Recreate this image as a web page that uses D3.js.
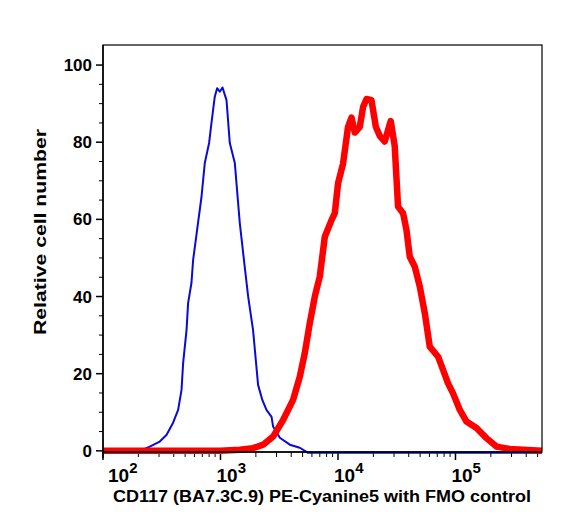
<!DOCTYPE html>
<html>
<head>
<meta charset="utf-8">
<script src="https://cdn.jsdelivr.net/npm/d3@7"></script>
<style>
  body { margin: 0; background: #fff; }
  text { font-family: Arial, "Liberation Sans", Helvetica, sans-serif; font-weight: bold; fill: #000; }
</style>
</head>
<body>
<div id="chart"></div>
<script>
// FMO control (blue) histogram
var fmoIntensity = [206, 250, 304, 347, 395, 436, 466, 481, 514, 530,
    566, 585, 644, 689, 735, 800, 838, 894, 936, 986,
    1040, 1125, 1200, 1324, 1459, 1590, 1720, 1893, 2089, 2270,
    2462, 2720, 2804, 3199, 3890, 4731, 5570, 545000];
var fmoCount = [0, 1.1, 2.4, 4.1, 7.3, 10.6, 15.8, 22.8, 31.3, 38.3,
    43.5, 49.5, 59.1, 65.8, 74.6, 79.8, 85.0, 91.8, 94.0, 93.1,
    94.2, 90.9, 79.8, 74.6, 59.1, 49.0, 40.0, 31.3, 17.1, 13.2,
    10.6, 8.8, 6.3, 3.4, 1.6, 0.8, -0.5, -0.5];

// CD117 stained (red) histogram
var cd117Intensity = [100, 1000, 1459, 1893, 2306, 2804, 3410, 4148, 4731, 5214,
    5754, 6350, 7000, 7723, 8810, 9397, 10020, 11050, 12180, 13030,
    13900, 15340, 16370, 17490, 19280, 20990, 22700, 25010, 28120, 30400,
    32450, 35800, 38260, 40830, 45060, 49660, 54810, 60420, 71120, 78390,
    86460, 95400, 108900, 124100, 151000, 183600, 223300, 289800, 376000, 545000];
var cd117Count = [0, 0, 0.3, 0.7, 1.6, 3.7, 8.0, 13.2, 19.2, 25.3,
    33.1, 40.0, 45.2, 55.5, 59.8, 61.6, 69.4, 74.5, 84.0, 86.4,
    82.5, 84.0, 89.2, 91.2, 90.9, 84.0, 81.6, 80.2, 85.5, 79.0,
    63.3, 61.6, 57.3, 50.3, 47.7, 42.6, 35.7, 27.0, 24.4, 21.0,
    17.5, 14.9, 10.6, 7.6, 5.9, 3.3, 1.1, 0.5, 0.3, 0];

var yTicks = [0, 20, 40, 60, 80, 100];
var xDecades = [2, 3, 4, 5];
var xTitle = "CD117 (BA7.3C.9) PE-Cyanine5 with FMO control";
var yTitle = "Relative cell number";

var W = 563, H = 524;
var plotL = 103, plotR = 542, plotT = 45, plotB = 452;

var svg = d3.select("#chart").append("svg")
    .attr("width", W).attr("height", H);

var x = d3.scaleLog().domain([100, 545000]).range([plotL, plotR]);
var y = d3.scaleLinear().domain([-0.3, 105.2]).range([plotB, plotT]);

// minor ticks
var yMinor = d3.range(0, 105, 5).filter(function(v) { return v % 20 !== 0; });
var xMinor = [];
[100, 1000, 10000, 100000].forEach(function(d) {
    for (var k = 2; k <= 9; k++) if (d * k <= 545000) xMinor.push(d * k);
});

var gy = svg.append("g");
gy.selectAll("line.major").data(yTicks).enter().append("line")
    .attr("x1", plotL - 7).attr("x2", plotL)
    .attr("y1", function(d) { return y(d); }).attr("y2", function(d) { return y(d); })
    .attr("stroke", "#000").attr("stroke-width", 1.5);
gy.selectAll("line.minor").data(yMinor).enter().append("line")
    .attr("x1", plotL - 4).attr("x2", plotL)
    .attr("y1", function(d) { return y(d); }).attr("y2", function(d) { return y(d); })
    .attr("stroke", "#000").attr("stroke-width", 1);
gy.selectAll("text").data(yTicks).enter().append("text")
    .attr("x", 92).attr("y", function(d) { return y(d); })
    .attr("dy", "0.36em").attr("text-anchor", "end")
    .style("font-size", "17px")
    .text(function(d) { return d; });

var gx = svg.append("g");
gx.selectAll("line.major").data(xDecades).enter().append("line")
    .attr("x1", function(d) { return x(Math.pow(10, d)); })
    .attr("x2", function(d) { return x(Math.pow(10, d)); })
    .attr("y1", plotB).attr("y2", plotB + 8)
    .attr("stroke", "#000").attr("stroke-width", 1.5);
gx.selectAll("line.minor").data(xMinor).enter().append("line")
    .attr("x1", function(d) { return x(d); }).attr("x2", function(d) { return x(d); })
    .attr("y1", plotB).attr("y2", plotB + 5)
    .attr("stroke", "#000").attr("stroke-width", 1);
var lab = gx.selectAll("text").data(xDecades).enter().append("text")
    .attr("x", function(d) { return Math.max(x(Math.pow(10, d)) - 4, 108); })
    .attr("y", 482)
    .style("font-size", "19px");
lab.append("tspan").text("10");
lab.append("tspan").attr("dy", -9).style("font-size", "15px")
    .text(function(d) { return d; });

// curves
var line = d3.line()
    .x(function(d) { return x(d[0]); })
    .y(function(d) { return y(d[1]); });

svg.append("path")
    .datum(d3.zip(fmoIntensity, fmoCount))
    .attr("d", line)
    .attr("fill", "none").attr("stroke", "#0a0ad8").attr("stroke-width", 2)
    .attr("stroke-linejoin", "round");

svg.append("path")
    .datum(d3.zip(cd117Intensity, cd117Count))
    .attr("d", line)
    .attr("fill", "none").attr("stroke", "#ff0000").attr("stroke-width", 6.5)
    .attr("stroke-linejoin", "round");

// frame
svg.append("rect")
    .attr("x", plotL).attr("y", plotT)
    .attr("width", plotR - plotL).attr("height", plotB - plotT)
    .attr("fill", "none").attr("stroke", "#000").attr("stroke-width", 1.2);
svg.append("line").attr("x1", plotL).attr("x2", plotR)
    .attr("y1", plotB).attr("y2", plotB)
    .attr("stroke", "#000").attr("stroke-width", 1.5);
svg.append("line").attr("x1", plotL).attr("x2", plotL)
    .attr("y1", plotT).attr("y2", plotB + 6)
    .attr("stroke", "#000").attr("stroke-width", 1.5);

// titles
svg.append("text")
    .attr("x", 322).attr("y", 502).attr("text-anchor", "middle")
    .attr("textLength", 418).attr("lengthAdjust", "spacingAndGlyphs")
    .style("font-size", "16px")
    .text(xTitle);
svg.append("text")
    .attr("transform", "translate(46,232) rotate(-90)")
    .attr("text-anchor", "middle")
    .attr("textLength", 206).attr("lengthAdjust", "spacingAndGlyphs")
    .style("font-size", "17px")
    .text(yTitle);
</script>
</body>
</html>
